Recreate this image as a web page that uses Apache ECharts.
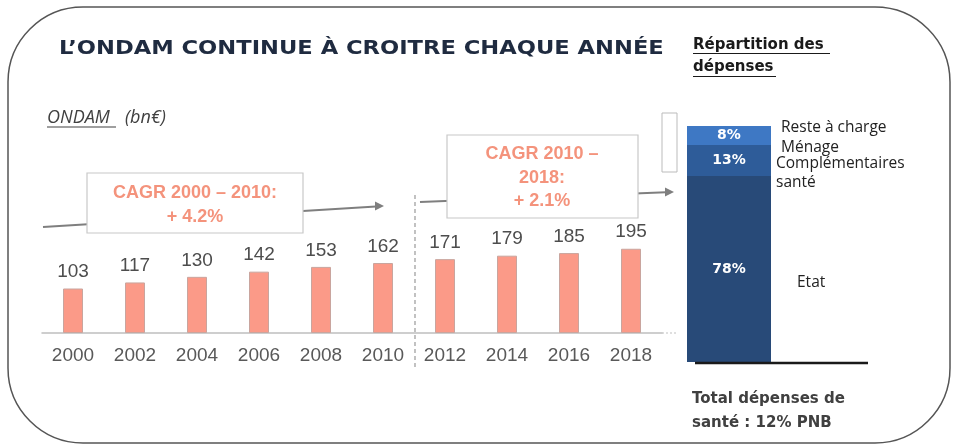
<!DOCTYPE html>
<html lang="fr">
<head>
<meta charset="UTF-8">
<title>ONDAM</title>
<script src="https://cdn.jsdelivr.net/npm/echarts@6/dist/echarts.min.js"></script>
<style>
  html, body { margin: 0; padding: 0; background: #fff; }
  #main { width: 955px; height: 445px; }
</style>
</head>
<body>
<div id="main"></div>
<script>
// données
var annees = ['2000', '2002', '2004', '2006', '2008', '2010', '2012', '2014', '2016', '2018'];
var ondam = [103, 117, 130, 142, 153, 162, 171, 179, 185, 195];
var postes = ['Etat', 'Complémentaires santé', 'Reste à charge Ménage'];
var parts = [78, 13, 8];
var couleursParts = ['#284a78', '#2e5c99', '#3e78c4'];

var chart = echarts.init(document.getElementById('main'));

var seriesParts = postes.map(function (p, i) {
  return {
    name: p,
    type: 'bar',
    stack: 'rep',
    xAxisIndex: 1,
    yAxisIndex: 1,
    barWidth: 84,
    data: [parts[i]],
    itemStyle: { color: couleursParts[i] },
    label: {
      show: true,
      position: 'inside',
      formatter: '{c}%',
      color: '#fff',
      fontWeight: 'bold',
      fontSize: 14,
      fontFamily: 'DejaVu Sans'
    },
    silent: true
  };
});

function txt(x, y, s, style, sx) {
  var st = Object.assign({ text: s, fill: '#404040', fontSize: 14, fontFamily: 'Open Sans', textVerticalAlign: 'middle' }, style || {});
  return { type: 'text', x: x, y: y, scaleX: sx || 1, style: st, z: 20 };
}
function trait(x1, y1, x2, y2, color, w, dash) {
  return { type: 'line', shape: { x1: x1, y1: y1, x2: x2, y2: y2 }, style: { stroke: color, lineWidth: w, lineDash: dash || null }, z: 5 };
}
function fleche(x, y) {
  return { type: 'polygon', shape: { points: [[x, y], [x - 9, y - 4.5], [x - 9, y + 4.5]] }, style: { fill: '#7f7f7f' }, z: 5 };
}

var cagr = { fill: '#f4937c', fontSize: 18, fontWeight: 'bold', fontFamily: 'Liberation Sans', textAlign: 'center' };
var gras = { fill: '#1a1a1a', fontSize: 15, fontWeight: 'bold', fontFamily: 'DejaVu Sans' };
var total = { fill: '#404040', fontSize: 15, fontWeight: 'bold', fontFamily: 'DejaVu Sans' };
var legende = { fill: '#222', fontSize: 15.5 };

chart.setOption({
  animation: false,
  grid: [
    { left: 42, top: 225, width: 620, height: 108 },
    { left: 687, top: 126, width: 84, height: 236 }
  ],
  xAxis: [
    {
      type: 'category',
      data: annees,
      axisLine: { lineStyle: { color: '#bfbfbf', width: 1.5 } },
      axisTick: { show: false },
      axisLabel: { color: '#595959', fontSize: 19, fontFamily: 'Liberation Sans', margin: 13 }
    },
    { gridIndex: 1, type: 'category', data: ['2018'], show: false }
  ],
  yAxis: [
    { type: 'value', min: 0, max: 250, show: false },
    { gridIndex: 1, type: 'value', min: 0, max: 99, show: false }
  ],
  series: [
    {
      type: 'bar',
      data: ondam,
      barWidth: 20,
      itemStyle: { color: '#fb9a88', borderColor: '#c9a59e', borderWidth: 1 },
      label: {
        show: true,
        position: 'top',
        distance: 7,
        color: '#4d4d4d',
        fontSize: 19,
        fontFamily: 'Liberation Sans'
      },
      silent: true
    }
  ].concat(seriesParts),
  graphic: [
    { type: 'rect', shape: { x: 8, y: 7, width: 942, height: 436, r: 75 }, style: { fill: null, stroke: '#555', lineWidth: 1.5 }, z: 1 },
    txt(59, 49, 'L’ONDAM CONTINUE À CROITRE CHAQUE ANNÉE', { fill: '#1f2b40', fontSize: 20, fontWeight: 'bold', fontFamily: 'DejaVu Sans' }, 1.13),
    txt(47, 118, 'ONDAM', { fontStyle: 'italic', fontSize: 18 }),
    trait(47, 127, 116, 127, '#404040', 1.2),
    txt(125, 118, '(bn€)', { fontStyle: 'italic', fontSize: 18 }),
    // flèches de tendance
    trait(43, 227, 376, 206.4, '#7f7f7f', 2),
    fleche(384, 206),
    trait(420, 202, 666, 192.3, '#7f7f7f', 2),
    fleche(674, 192),
    trait(415, 195, 415, 367, '#999', 1.2, [4, 3]),
    trait(662, 333, 677, 333, '#bfbfbf', 1.2, [2, 2]),
    // encadrés CAGR
    { type: 'rect', shape: { x: 87, y: 173, width: 216, height: 60 }, style: { fill: '#fff', stroke: '#c8c8c8', lineWidth: 1.2 }, z: 10 },
    txt(195, 193, 'CAGR 2000 – 2010:', cagr),
    txt(195, 217, '+ 4.2%', cagr),
    { type: 'rect', shape: { x: 447, y: 135, width: 191, height: 83 }, style: { fill: '#fff', stroke: '#c8c8c8', lineWidth: 1.2 }, z: 10 },
    txt(542, 154, 'CAGR 2010 –', cagr),
    txt(542, 178, '2018:', cagr),
    txt(542, 201, '+ 2.1%', cagr),
    // répartition
    txt(693, 45, 'Répartition des', gras),
    trait(693, 53.5, 830, 53.5, '#1a1a1a', 1.2),
    txt(693, 67, 'dépenses', gras),
    trait(693, 76.5, 776, 76.5, '#1a1a1a', 1.2),
    { type: 'rect', shape: { x: 662, y: 113, width: 15, height: 59 }, style: { fill: '#fff', stroke: '#bbb', lineWidth: 1 }, z: 10 },
    trait(695, 363, 868, 363, '#1a1a1a', 2.5),
    txt(781, 128, 'Reste à charge', legende),
    txt(781, 148, 'Ménage', legende),
    txt(776, 164, 'Complémentaires', legende),
    txt(776, 183, 'santé', legende),
    txt(797, 283, 'Etat', legende),
    txt(692, 399, 'Total dépenses de', total),
    txt(692, 423, 'santé : 12% PNB', total)
  ]
});
</script>
</body>
</html>
